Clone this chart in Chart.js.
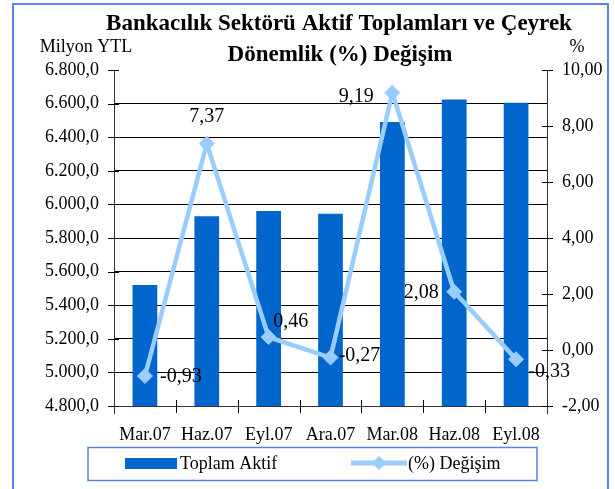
<!DOCTYPE html>
<html lang="tr">
<head>
    <meta charset="UTF-8">
    <title>Bankacılık Sektörü Aktif Toplamları</title>
    <script src="https://cdn.jsdelivr.net/npm/chart.js"></script>
    <style>
        body { margin: 0; background: #fff; }
        canvas { display: block; }
    </style>
</head>
<body>
    <canvas id="chart" width="615" height="489"></canvas>

    <script>
        // data
        const quarters = ['Mar.07', 'Haz.07', 'Eyl.07', 'Ara.07', 'Mar.08', 'Haz.08', 'Eyl.08'];
        const totalAssets = [5520, 5930, 5960, 5945, 6490, 6625, 6605];
        const pctChange = [-0.93, 7.37, 0.46, -0.27, 9.19, 2.08, -0.33];
        const leftTicks = [4800, 6800, 200];
        const rightTicks = [-2, 10, 2];

        // where each value label sits relative to its point
        const labelOffsets = [[36, 1], [0, -27], [22, -15], [29, -2], [-36, 4], [-33, 1], [33, 13]];

        const serif = '"Liberation Serif", "Times New Roman", serif';
        const barColor = '#0066cc';
        const lineColor = '#99ccff';
        const frameColor = '#5a80ea';

        function fmtLeft(v) {
            const parts = v.toFixed(1).split('.');
            const intPart = parts[0].replace(/\B(?=(\d{3})+(?!\d))/g, '.');
            return intPart + ',' + parts[1];
        }
        function fmtPct(v) {
            return v.toFixed(2).replace('.', ',');
        }

        const decorations = {
            id: 'decorations',
            afterDatasetsDraw(chart) {
                const ctx = chart.ctx;
                const area = chart.chartArea;
                const y = chart.scales.y;
                const y1 = chart.scales.y1;
                ctx.save();

                // axis lines
                ctx.strokeStyle = '#333';
                ctx.lineWidth = 1;
                ctx.beginPath();
                ctx.moveTo(area.left + 0.5, area.top);
                ctx.lineTo(area.left + 0.5, area.bottom + 8);
                ctx.moveTo(area.right + 0.5, area.top);
                ctx.lineTo(area.right + 0.5, area.bottom + 8);
                ctx.moveTo(area.left, area.bottom + 0.5);
                ctx.lineTo(area.right, area.bottom + 0.5);
                ctx.stroke();

                // tick marks crossing the axes
                ctx.strokeStyle = '#000';
                ctx.beginPath();
                y.ticks.forEach(t => {
                    const py = Math.round(y.getPixelForValue(t.value)) + 0.5;
                    ctx.moveTo(area.left - 6, py);
                    ctx.lineTo(area.left + 5, py);
                });
                y1.ticks.forEach(t => {
                    const py = Math.round(y1.getPixelForValue(t.value)) + 0.5;
                    ctx.moveTo(area.right - 5, py);
                    ctx.lineTo(area.right + 6, py);
                });
                const step = (area.right - area.left) / quarters.length;
                for (let i = 1; i < quarters.length; i++) {
                    const px = Math.round(area.left + step * i) + 0.5;
                    ctx.moveTo(px, area.bottom - 6);
                    ctx.lineTo(px, area.bottom + 7);
                }
                ctx.stroke();

                // value labels on the line
                ctx.fillStyle = '#000';
                ctx.font = '20px ' + serif;
                ctx.textAlign = 'center';
                ctx.textBaseline = 'middle';
                const meta = chart.getDatasetMeta(0);
                meta.data.forEach((pt, i) => {
                    const off = labelOffsets[i];
                    ctx.fillText(fmtPct(pctChange[i]), pt.x + off[0], pt.y + off[1]);
                });

                // axis titles
                ctx.font = '18px ' + serif;
                ctx.fillText('Milyon YTL', 86, 47);
                ctx.fillText('%', 577, 47);

                // chart title
                ctx.font = 'bold 23px ' + serif;
                ctx.fillText('Bankacılık Sektörü Aktif Toplamları ve Çeyrek', 339, 24);
                ctx.fillText('Dönemlik (%) Değişim', 340, 55);

                // legend
                ctx.strokeStyle = frameColor;
                ctx.lineWidth = 1.5;
                ctx.strokeRect(88, 447.5, 449, 33);
                ctx.fillStyle = barColor;
                ctx.fillRect(125, 458, 52, 11);
                ctx.strokeStyle = lineColor;
                ctx.lineWidth = 5;
                ctx.beginPath();
                ctx.moveTo(351, 463);
                ctx.lineTo(407, 463);
                ctx.stroke();
                ctx.fillStyle = lineColor;
                ctx.beginPath();
                ctx.moveTo(379, 456);
                ctx.lineTo(386, 463);
                ctx.lineTo(379, 470);
                ctx.lineTo(372, 463);
                ctx.closePath();
                ctx.fill();
                ctx.fillStyle = '#000';
                ctx.font = '18px ' + serif;
                ctx.textAlign = 'left';
                ctx.fillText('Toplam Aktif', 180, 464);
                ctx.fillText('(%) Değişim', 408, 464);

                // outer frame
                ctx.strokeStyle = frameColor;
                ctx.lineWidth = 2;
                ctx.strokeRect(13, 4, 595, 500);
                ctx.restore();
            }
        };

        new Chart(document.getElementById('chart'), {
            data: {
                labels: quarters,
                datasets: [{
                    type: 'line',
                    label: '(%) Değişim',
                    data: pctChange,
                    yAxisID: 'y1',
                    borderColor: lineColor,
                    backgroundColor: lineColor,
                    borderWidth: 4.5,
                    pointStyle: 'rectRot',
                    pointRadius: 7.5,
                    pointBorderWidth: 1,
                    tension: 0,
                    order: 0
                }, {
                    type: 'bar',
                    label: 'Toplam Aktif',
                    data: totalAssets,
                    yAxisID: 'y',
                    backgroundColor: barColor,
                    barPercentage: 0.4,
                    categoryPercentage: 1,
                    order: 1
                }]
            },
            options: {
                responsive: false,
                animation: false,
                layout: { padding: { top: 70, left: 0, right: 0, bottom: 0 } },
                plugins: {
                    legend: { display: false },
                    tooltip: { enabled: false },
                    title: { display: false }
                },
                scales: {
                    x: {
                        offset: true,
                        grid: { display: false },
                        border: { display: false },
                        ticks: { color: '#000', font: { family: serif, size: 18 }, padding: 10, maxRotation: 0 },
                        afterFit: s => { s.height = 83; }
                    },
                    y: {
                        position: 'left',
                        min: leftTicks[0],
                        max: leftTicks[1],
                        grid: {
                            drawTicks: false,
                            color: ctx => (ctx.tick && ctx.tick.value === leftTicks[1]) ? 'rgba(0,0,0,0)' : '#000',
                            lineWidth: 1
                        },
                        border: { display: false },
                        ticks: {
                            stepSize: leftTicks[2],
                            color: '#000',
                            padding: 15,
                            font: { family: serif, size: 18 },
                            callback: v => fmtLeft(v)
                        },
                        afterFit: s => { s.width = 114; }
                    },
                    y1: {
                        position: 'right',
                        min: rightTicks[0],
                        max: rightTicks[1],
                        grid: { display: false, drawOnChartArea: false, drawTicks: false },
                        border: { display: false },
                        ticks: {
                            stepSize: rightTicks[2],
                            color: '#000',
                            padding: 15,
                            font: { family: serif, size: 18 },
                            callback: v => fmtPct(v)
                        },
                        afterFit: s => { s.width = 68; }
                    }
                }
            },
            plugins: [decorations]
        });
    </script>
</body>
</html>
